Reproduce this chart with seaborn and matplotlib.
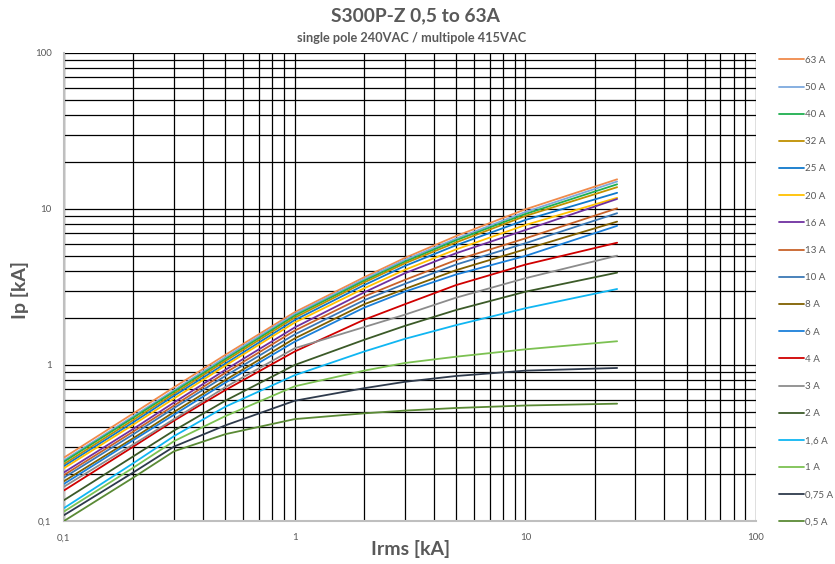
import numpy as np
import pandas as pd
import matplotlib
matplotlib.use("Agg")
import matplotlib.pyplot as plt
from matplotlib.ticker import NullFormatter, LogLocator
import seaborn as sns

sns.set_style("white")
plt.rcParams['font.family'] = ['Lato', 'DejaVu Sans']

# prospective short-circuit current Irms [kA]
irms = [0.1, 0.2, 0.3, 0.5, 1, 2, 3, 5, 10, 25]

# let-through peak current Ip [kA] per rating
ip_63 = [0.255, 0.49, 0.72, 1.16, 2.18, 3.65, 4.85, 6.7, 9.95, 15.5]
ip_50 = [0.245, 0.47, 0.69, 1.12, 2.12, 3.55, 4.71, 6.45, 9.57, 15.0]
ip_40 = [0.24, 0.46, 0.675, 1.09, 2.07, 3.47, 4.59, 6.3, 9.29, 14.4]
ip_32 = [0.232, 0.445, 0.655, 1.06, 2.01, 3.38, 4.48, 6.1, 9.02, 13.8]
ip_25 = [0.225, 0.43, 0.635, 1.02, 1.94, 3.25, 4.31, 5.85, 8.5, 12.7]
ip_20 = [0.218, 0.415, 0.61, 0.99, 1.87, 3.1, 4.07, 5.5, 7.89, 11.8]
ip_16 = [0.205, 0.39, 0.575, 0.93, 1.74, 2.92, 3.87, 5.2, 7.33, 11.6]
ip_13 = [0.197, 0.375, 0.55, 0.89, 1.66, 2.75, 3.51, 4.7, 6.48, 10.1]
ip_10 = [0.19, 0.36, 0.53, 0.85, 1.57, 2.6, 3.31, 4.4, 6.03, 9.4]
ip_8 = [0.18, 0.34, 0.5, 0.8, 1.48, 2.45, 3.07, 4.05, 5.52, 8.3]
ip_6 = [0.173, 0.33, 0.48, 0.77, 1.41, 2.33, 2.95, 3.8, 5.0, 7.8]
ip_4 = [0.157, 0.30, 0.44, 0.69, 1.22, 1.95, 2.45, 3.25, 4.4, 6.08]
ip_3 = [0.166, 0.31, 0.45, 0.72, 1.28, 1.75, 2.1, 2.7, 3.6, 5.02]
ip_2 = [0.136, 0.26, 0.38, 0.59, 1.0, 1.45, 1.78, 2.25, 2.95, 3.91]
ip_1_6 = [0.121, 0.235, 0.35, 0.54, 0.86, 1.22, 1.47, 1.8, 2.31, 3.07]
ip_1 = [0.115, 0.22, 0.325, 0.47, 0.73, 0.92, 1.03, 1.13, 1.26, 1.42]
ip_0_75 = [0.109, 0.205, 0.30, 0.41, 0.59, 0.71, 0.78, 0.85, 0.92, 0.957]
ip_0_5 = [0.1, 0.19, 0.28, 0.36, 0.45, 0.49, 0.51, 0.53, 0.55, 0.565]

ratings = ['63 A', '50 A', '40 A', '32 A', '25 A', '20 A', '16 A', '13 A', '10 A',
           '8 A', '6 A', '4 A', '3 A', '2 A', '1,6 A', '1 A', '0,75 A', '0,5 A']
series = [ip_63, ip_50, ip_40, ip_32, ip_25, ip_20, ip_16, ip_13, ip_10,
          ip_8, ip_6, ip_4, ip_3, ip_2, ip_1_6, ip_1, ip_0_75, ip_0_5]
colors = ['#F08A4B', '#7DA9DE', '#1FAF4F', '#BF9000', '#0F78CC', '#FFC000',
          '#7030A0', '#C8622A', '#3A78B5', '#806000', '#1B80DA', '#D00000',
          '#8C8C8C', '#3B5A28', '#10B6F2', '#7CC152', '#2E3A4C', '#5A8A35']

rows = []
for name, vals in zip(ratings, series):
    for x, y in zip(irms, vals):
        rows.append({'Irms': x, 'Ip': y, 'Rating': name})
df = pd.DataFrame(rows)

fig = plt.figure(figsize=(8.35, 5.64), dpi=100)
ax = fig.add_axes([64/835, 1 - 521/564, (756 - 64)/835, (521 - 53)/564])

sns.lineplot(data=df, x='Irms', y='Ip', hue='Rating', hue_order=ratings,
             palette=dict(zip(ratings, colors)), linewidth=1.3, ax=ax,
             legend=True, zorder=3)

ax.set_xscale('log')
ax.set_yscale('log')
ax.set_xlim(0.1, 100)
ax.set_ylim(0.1, 100)

# gridlines: every decade step, all black
ax.xaxis.set_minor_locator(LogLocator(base=10, subs=np.arange(2, 10)))
ax.yaxis.set_minor_locator(LogLocator(base=10, subs=np.arange(2, 10)))
ax.grid(True, which='both', color='black', linewidth=0.9)
ax.set_axisbelow(True)

ax.set_xticks([0.1, 1, 10, 100])
ax.set_xticklabels(['0,1', '1', '10', '100'])
ax.set_yticks([0.1, 1, 10, 100])
ax.set_yticklabels(['0,1', '1', '10', '100'])
ax.xaxis.set_minor_formatter(NullFormatter())
ax.yaxis.set_minor_formatter(NullFormatter())
ax.tick_params(which='both', length=0, labelsize=7, labelcolor='#595959')
ax.tick_params(axis='x', pad=9)
ax.tick_params(axis='y', pad=9)

for side in ['left', 'bottom']:
    ax.spines[side].set_color('#BFBFBF')
    ax.spines[side].set_linewidth(1.5)
for side in ['top', 'right']:
    ax.spines[side].set_visible(False)

ax.set_xlabel('')
ax.set_ylabel('')

handles, labels = ax.get_legend_handles_labels()
ax.get_legend().remove()
fig.legend(handles, labels, loc='upper left',
           bbox_to_anchor=(770/835, 1 - 47/564), frameon=False,
           fontsize=7, handlelength=2.6, handletextpad=0.15,
           labelspacing=1.87, labelcolor='#595959')

fig.text(0.497, 1 - 16/564, 'S300P-Z 0,5 to 63A', ha='center', va='center',
         fontsize=13.8, fontweight='bold', color='#595959')
fig.text(0.493, 1 - 38/564, 'single pole 240VAC / multipole 415VAC',
         ha='center', va='center', fontsize=9.2, fontweight='bold', color='#595959')
fig.text(411/835, 1 - 549/564, 'Irms [kA]', ha='center', va='center',
         fontsize=14, fontweight='bold', color='#595959')
fig.text(20/835, 1 - 290/564, 'Ip [kA]', ha='center', va='center',
         rotation=90, fontsize=14, fontweight='bold', color='#595959')

fig.savefig('out.png', dpi=100)
